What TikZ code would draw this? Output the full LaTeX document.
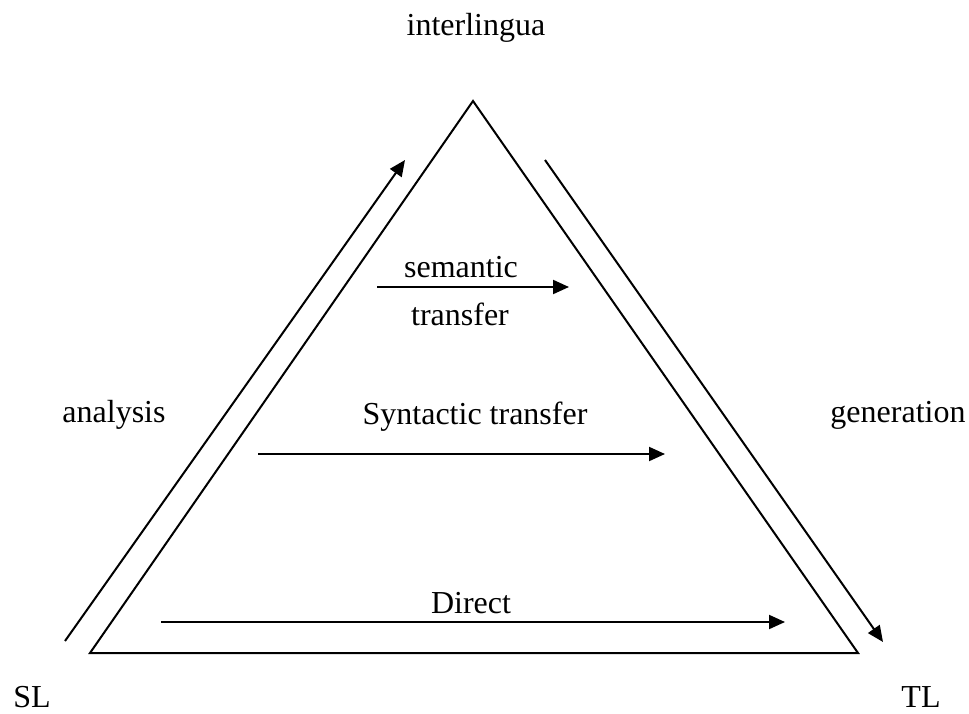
\documentclass[tikz,border=0pt]{standalone}
\usepackage{fontspec}
\setmainfont{Liberation Serif}
\usetikzlibrary{arrows.meta}

\tikzset{
  flow/.style={line width=1.5pt,-{Triangle[length=12pt,width=10.5pt]}},
  side/.style={line width=1.5pt},
  lbl/.style={anchor=base,inner sep=0pt,font=\fontsize{24}{28}\selectfont}
}

\begin{document}
\begin{tikzpicture}[x=0.75pt,y=-0.75pt]
    \useasboundingbox (0,0) rectangle (969,713);
    % triangle
    \coordinate (top) at (473,101);
    \coordinate (sl) at (90,653);
    \coordinate (tl) at (858,653);
    \draw [side,line join=miter] (top) -- (sl) -- (tl) -- cycle;
    % labels
    \node[lbl] at (476,36)  (il)  {interlingua};
    \node[lbl] at (461,277) (sem) {semantic};
    \node[lbl] at (460,325) (tr)  {transfer};
    \node[lbl] at (114,422) (an)  {analysis};
    \node[lbl] at (475,424) (syn) {Syntactic transfer};
    \node[lbl] at (898,422) (gen) {generation};
    \node[lbl] at (471,613) (dir) {Direct};
    \node[lbl] at (32,707)  (sll) {SL};
    \node[lbl] at (921,707) (tll) {TL};
    % arrows
    \coordinate (an0) at (65,641);
    \coordinate (an1) at (405,160);
    \coordinate (gen0) at (545,160);
    \coordinate (gen1) at (883,642);
    \coordinate (sem0) at (377,287);
    \coordinate (sem1) at (569,287);
    \coordinate (syn0) at (258,454);
    \coordinate (syn1) at (665,454);
    \coordinate (dir0) at (161,622);
    \coordinate (dir1) at (785,622);
    \draw [flow] (an0) -- (an1);
    \draw [flow] (gen0) -- (gen1);
    \draw [flow] (sem0) -- (sem1);
    \draw [flow] (syn0) -- (syn1);
    \draw [flow] (dir0) -- (dir1);
  \end{tikzpicture}
\end{document}
